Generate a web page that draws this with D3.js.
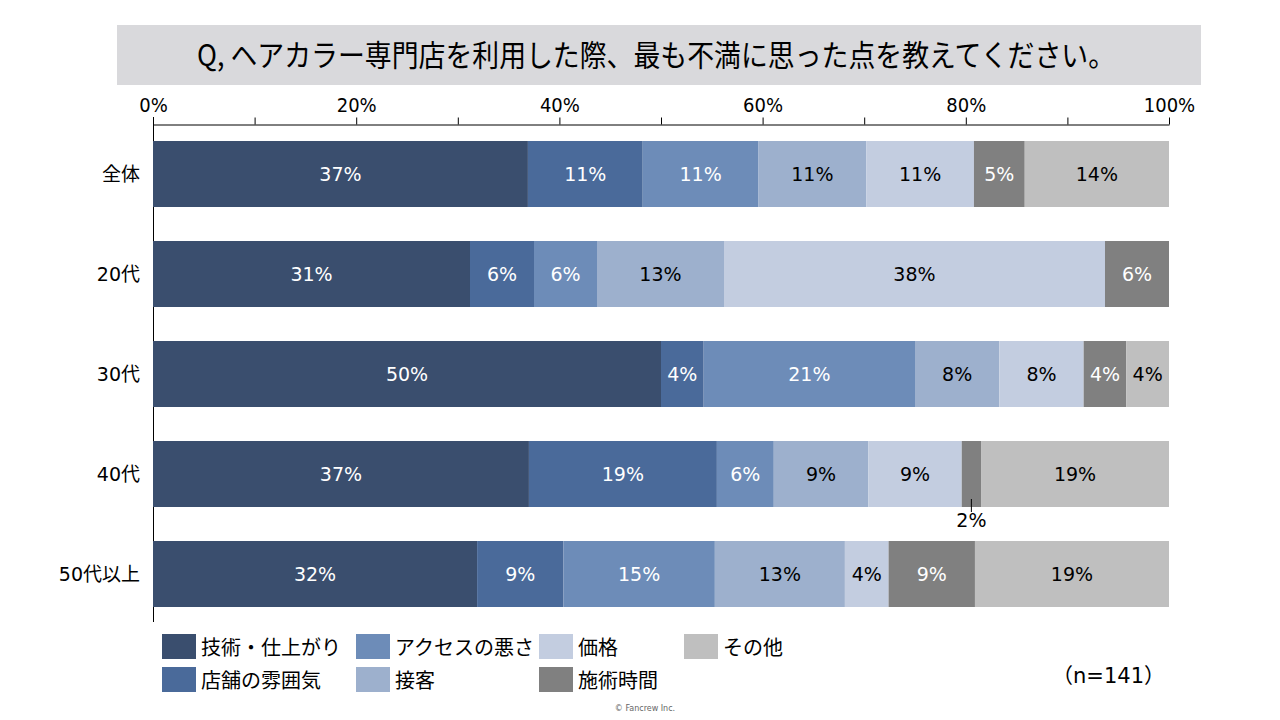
<!DOCTYPE html>
<html><head><meta charset="utf-8">
<script src="https://cdn.jsdelivr.net/npm/d3@7"></script>
<style>body{margin:0;background:#fff}svg{display:block}</style>
</head><body>
<svg id="c" width="1280" height="720"></svg>
<script>
const title = "Q, ヘアカラー専門店を利用した際、最も不満に思った点を教えてください。";
const categories = ["全体","20代","30代","40代","50代以上"];
const seriesNames = ["技術・仕上がり","店舗の雰囲気","アクセスの悪さ","接客","価格","施術時間","その他"];
const gijutsu = [36.9, 31.2, 50.0, 37.0, 31.9];
const tenpo   = [11.3, 6.3, 4.2, 18.5, 8.5];
const access  = [11.4, 6.2, 20.8, 5.6, 14.9];
const sekkyaku= [10.6, 12.5, 8.3, 9.3, 12.8];
const kakaku  = [10.6, 37.5, 8.3, 9.2, 4.3];
const jikan   = [5.0, 6.3, 4.2, 1.9, 8.5];
const sonota  = [14.2, 0, 4.2, 18.5, 19.1];
const tickValues = [0,10,20,30,40,50,60,70,80,90,100];
const nLabel = "（n=141）";
const colors = ["#3a4e6e","#4a6a9a","#6d8cb8","#9db0cd","#c3cde0","#808080","#bfbfbf"];
const labelColors = ["#fff","#fff","#fff","#000","#000","#fff","#000"];

const seriesValues = [gijutsu, tenpo, access, sekkyaku, kakaku, jikan, sonota];
const rows = categories.map((c,i)=>{const o={cat:c}; seriesNames.forEach((s,j)=>o[s]=seriesValues[j][i]); return o;});
const stack = d3.stack().keys(seriesNames)(rows);

const svg = d3.select("#c");
const jp = "'Noto Sans CJK JP', sans-serif";
const latin = "'DejaVu Sans', 'Noto Sans CJK JP', sans-serif";
const cond = "'DejaVu Sans Condensed', 'Noto Sans CJK JP', sans-serif";

// title box
svg.append("rect").attr("x",117).attr("y",25).attr("width",1084).attr("height",60).attr("fill","#d9d9dc");
svg.append("text").attr("x",656).attr("y",66).attr("text-anchor","middle")
  .attr("font-family",jp).attr("font-size",30).attr("fill","#000")
  .attr("textLength",918).attr("lengthAdjust","spacingAndGlyphs").text(title);

const x = d3.scaleLinear().domain([0,100]).range([153,1169]);
const y = d3.scaleBand().domain(categories).range([124,624]).paddingInner(0.34).paddingOuter(0.17);

// top axis
const ax = svg.append("g").attr("transform","translate(0,124.5)")
  .call(d3.axisTop(x).tickValues(tickValues).tickSize(7).tickSizeOuter(0).tickPadding(6)
    .tickFormat(d=> d%20===0 ? d+"%" : ""));
ax.select(".domain").attr("stroke","#000");
ax.selectAll(".tick line").attr("stroke","#000");
ax.selectAll("text").attr("font-family",cond).attr("font-size",20).attr("fill","#000");

// left vertical line
svg.append("line").attr("x1",x(0)+0.5).attr("x2",x(0)+0.5).attr("y1",117).attr("y2",622).attr("stroke","#000");

// bars
const g = svg.append("g");
stack.forEach((layer,j)=>{
  layer.forEach((d,i)=>{
    const w = x(d[1]) - x(d[0]);
    if (w <= 0) return;
    const cat = categories[i];
    g.append("rect").attr("x",x(d[0])).attr("y",y(cat)).attr("width",w).attr("height",y.bandwidth()).attr("fill",colors[j]);
    const v = d[1]-d[0];
    const lbl = Math.round(v)+"%";
    const cx = (x(d[0])+x(d[1]))/2;
    if (v >= 3) {
      g.append("text").attr("x",cx).attr("y",y(cat)+y.bandwidth()/2+7).attr("text-anchor","middle")
        .attr("font-family",latin).attr("font-size",19).attr("fill",labelColors[j]).text(lbl);
    } else {
      const by = y(cat)+y.bandwidth();
      g.append("line").attr("x1",cx).attr("x2",cx).attr("y1",by-8).attr("y2",by+5).attr("stroke","#000");
      g.append("text").attr("x",cx).attr("y",by+20).attr("text-anchor","middle")
        .attr("font-family",latin).attr("font-size",19).attr("fill","#000").text(lbl);
    }
  });
});

// category labels
svg.append("g").selectAll("text").data(categories).join("text")
  .attr("x",140).attr("y",d=>y(d)+y.bandwidth()/2+7).attr("text-anchor","end")
  .attr("font-family",latin).attr("font-size",19).attr("fill","#000").text(d=>d);

// legend
const legPos = [[162,634],[162,667],[356,634],[356,667],[539,634],[539,667],[684,634]];
const leg = svg.append("g");
seriesNames.forEach((s,j)=>{
  const [lx,ly] = legPos[j];
  leg.append("rect").attr("x",lx).attr("y",ly).attr("width",34).attr("height",25).attr("fill",colors[j]);
  leg.append("text").attr("x",lx+39).attr("y",ly+21).attr("font-family",jp).attr("font-size",20).attr("fill","#000").text(s);
});

svg.append("text").attr("x",1165).attr("y",683).attr("text-anchor","end")
  .attr("font-family",latin).attr("font-size",21).attr("fill","#000").text(nLabel);
svg.append("text").attr("x",645).attr("y",711).attr("text-anchor","middle")
  .attr("font-family",latin).attr("font-size",8).attr("fill","#666").text("© Fancrew Inc.");
</script>
</body></html>
